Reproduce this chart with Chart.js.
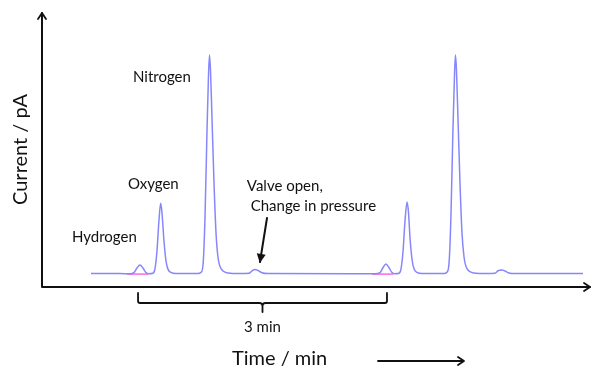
<!DOCTYPE html>
<html>
<head>
<meta charset="utf-8">
<script src="https://cdn.jsdelivr.net/npm/chart.js@4.4.1/dist/chart.umd.min.js"></script>
<style>
  html, body { margin: 0; padding: 0; background: #ffffff; }
  #wrap { width: 594px; height: 371px; }
</style>
</head>
<body>
<div id="wrap"><canvas id="c" width="594" height="371"></canvas></div>
<script>
// Detector trace: retention time (min) and current (pA, arbitrary scale)
const timeMin = [
  0.598, 0.951, 1.073, 1.122, 1.159, 1.195, 1.232, 1.268, 1.305, 1.354,
  1.378, 1.403, 1.427, 1.448, 1.464, 1.488, 1.513, 1.537, 1.574, 1.635,
  1.904, 1.940, 1.965, 1.989, 2.013, 2.031, 2.044, 2.056, 2.074, 2.099,
  2.123, 2.147, 2.172, 2.209, 2.270, 2.416,
  2.526, 2.563, 2.599, 2.636, 2.684, 2.758,
  4.064, 4.125, 4.161, 4.198, 4.235, 4.271, 4.308, 4.357,
  4.381, 4.406, 4.430, 4.455, 4.473, 4.491, 4.516, 4.540, 4.577, 4.638,
  4.906, 4.942, 4.967, 4.991, 5.015, 5.034, 5.046, 5.058, 5.076, 5.101,
  5.125, 5.150, 5.174, 5.211, 5.272, 5.418,
  5.528, 5.565, 5.614, 5.650, 5.699, 5.772, 6.602
];
const currentPA = [
  4.9, 4.9, 4.8, 5.2, 6.9, 8.0, 6.9, 5.3, 4.8, 5.0,
  6.5, 13.0, 24.0, 30.5, 27.0, 17.0, 9.5, 6.5, 5.3, 4.9,
  4.9, 5.3, 8.0, 25.0, 56.0, 76.0, 84.4, 79.0, 62.0, 38.0,
  20.0, 11.0, 7.5, 5.8, 5.1, 4.9,
  5.0, 5.9, 6.4, 6.0, 5.2, 4.9,
  4.8, 5.2, 7.0, 8.4, 7.0, 5.3, 4.8, 5.0,
  6.5, 13.0, 24.0, 30.9, 27.0, 18.0, 10.0, 6.6, 5.3, 4.9,
  4.9, 5.4, 8.5, 26.0, 57.0, 77.0, 84.4, 79.0, 62.0, 38.0,
  20.0, 11.0, 7.5, 5.8, 5.1, 4.9,
  5.0, 5.9, 6.2, 5.8, 5.1, 4.9, 4.9
];

// Integration baselines under the hydrogen peaks (start, end in min; level in pA)
const h2BaseStart = [1.037, 4.028];
const h2BaseEnd = [1.293, 4.284];
const h2BaseLevel = [4.7, 4.7];

// Peak annotations: text and anchor (min, pA)
const peakLabels = ['Hydrogen', 'Oxygen', 'Nitrogen'];
const peakLabelTime = [0.366, 1.049, 1.110];
const peakLabelCurrent = [16.4, 35.6, 74.5];
const valveLabel = ['Valve open,', ' Change in pressure'];
const cycleLabel = '3 min';
const cycleStart = 1.172;
const cycleEnd = 4.210;
const xTitle = 'Time / min';
const yTitle = 'Current / pA';

const traceData = timeMin.map((t, i) => ({ x: t, y: currentPA[i] }));
const baseSets = h2BaseStart.map((s, i) => ({
  data: [{ x: s, y: h2BaseLevel[i] }, { x: h2BaseEnd[i], y: h2BaseLevel[i] }],
  borderColor: 'rgb(255, 80, 220)',
  borderWidth: 1.3,
  pointRadius: 0,
  showLine: true,
  order: 2
}));

const FONT = 'Lato, "Open Sans", sans-serif';

function arrowHead(ctx, x, y, ang, len, wid) {
  ctx.save();
  ctx.translate(x, y);
  ctx.rotate(ang);
  ctx.beginPath();
  ctx.moveTo(0, 0);
  ctx.lineTo(-len, -wid);
  ctx.moveTo(0, 0);
  ctx.lineTo(-len, wid);
  ctx.stroke();
  ctx.restore();
}

const decorations = {
  id: 'decorations',
  afterDraw(chart) {
    const ctx = chart.ctx;
    const a = chart.chartArea;
    const xs = chart.scales.x, ys = chart.scales.y;
    ctx.save();
    ctx.strokeStyle = '#111';
    ctx.fillStyle = '#111';
    ctx.lineCap = 'round';
    ctx.lineJoin = 'round';

    // axes with arrow heads
    ctx.lineWidth = 2;
    ctx.beginPath();
    ctx.moveTo(a.left, a.top + 1);
    ctx.lineTo(a.left, a.bottom);
    ctx.lineTo(a.right - 1, a.bottom);
    ctx.stroke();
    ctx.lineWidth = 1.8;
    arrowHead(ctx, a.left, a.top + 1, -Math.PI / 2, 6, 4);
    arrowHead(ctx, a.right - 1, a.bottom, 0, 6, 4);

    // peak names
    ctx.font = '15px ' + FONT;
    ctx.textAlign = 'left';
    ctx.textBaseline = 'alphabetic';
    peakLabels.forEach((s, i) => {
      ctx.fillText(s, xs.getPixelForValue(peakLabelTime[i]), ys.getPixelForValue(peakLabelCurrent[i]));
    });

    // valve note and its arrow
    const vx = xs.getPixelForValue(2.50);
    ctx.fillText(valveLabel[0], vx, ys.getPixelForValue(34.9));
    ctx.fillText(valveLabel[1], vx, ys.getPixelForValue(27.6));
    const ax0 = xs.getPixelForValue(2.746), ay0 = ys.getPixelForValue(25.1);
    const ax1 = xs.getPixelForValue(2.660), ay1 = ys.getPixelForValue(9.1);
    ctx.lineWidth = 2;
    ctx.beginPath();
    ctx.moveTo(ax0, ay0);
    ctx.lineTo(ax1, ay1);
    ctx.stroke();
    ctx.save();
    ctx.translate(ax1, ay1);
    ctx.rotate(Math.atan2(ay1 - ay0, ax1 - ax0));
    ctx.beginPath();
    ctx.moveTo(1, 0);
    ctx.lineTo(-8, -4.5);
    ctx.lineTo(-8, 4.5);
    ctx.closePath();
    ctx.fill();
    ctx.restore();

    // bracket marking one cycle
    const bx0 = xs.getPixelForValue(cycleStart);
    const bx1 = xs.getPixelForValue(cycleEnd);
    const bm = (bx0 + bx1) / 2;
    const bt = a.bottom + 6, bb = a.bottom + 16, bs = a.bottom + 25;
    ctx.lineWidth = 1.8;
    ctx.beginPath();
    ctx.moveTo(bx0, bt);
    ctx.lineTo(bx0, bb - 2);
    ctx.quadraticCurveTo(bx0, bb, bx0 + 2, bb);
    ctx.lineTo(bm - 3, bb);
    ctx.quadraticCurveTo(bm, bb, bm, bb + 3);
    ctx.quadraticCurveTo(bm, bb, bm + 3, bb);
    ctx.lineTo(bx1 - 2, bb);
    ctx.quadraticCurveTo(bx1, bb, bx1, bb - 2);
    ctx.lineTo(bx1, bt);
    ctx.moveTo(bm, bb + 2);
    ctx.lineTo(bm, bs);
    ctx.stroke();
    ctx.font = '15px ' + FONT;
    ctx.textAlign = 'center';
    ctx.fillText(cycleLabel, bm, a.bottom + 45);

    // axis titles
    ctx.font = '20px ' + FONT;
    ctx.textAlign = 'left';
    ctx.fillText(xTitle, 232, a.bottom + 78);
    ctx.lineWidth = 1.8;
    ctx.beginPath();
    ctx.moveTo(378, a.bottom + 74);
    ctx.lineTo(463, a.bottom + 74);
    ctx.stroke();
    arrowHead(ctx, 464, a.bottom + 74, 0, 6, 4);

    ctx.save();
    ctx.translate(27, (a.top + a.bottom) / 2);
    ctx.rotate(-Math.PI / 2);
    ctx.textAlign = 'center';
    ctx.fillText(yTitle, 0, 0);
    ctx.restore();
    ctx.restore();
  }
};

new Chart(document.getElementById('c'), {
  type: 'scatter',
  data: {
    datasets: [{
      data: traceData,
      showLine: true,
      borderColor: 'rgb(135, 135, 252)',
      borderWidth: 1.5,
      pointRadius: 0,
      cubicInterpolationMode: 'monotone',
      order: 1
    }, ...baseSets]
  },
  options: {
    responsive: false,
    animation: false,
    events: [],
    layout: { padding: { left: 42, right: 3, top: 12, bottom: 84 } },
    plugins: { legend: { display: false }, tooltip: { enabled: false } },
    scales: {
      x: { type: 'linear', min: 0, max: 6.7, display: false },
      y: { type: 'linear', min: 0, max: 100, display: false }
    }
  },
  plugins: [decorations]
});
</script>
</body>
</html>
